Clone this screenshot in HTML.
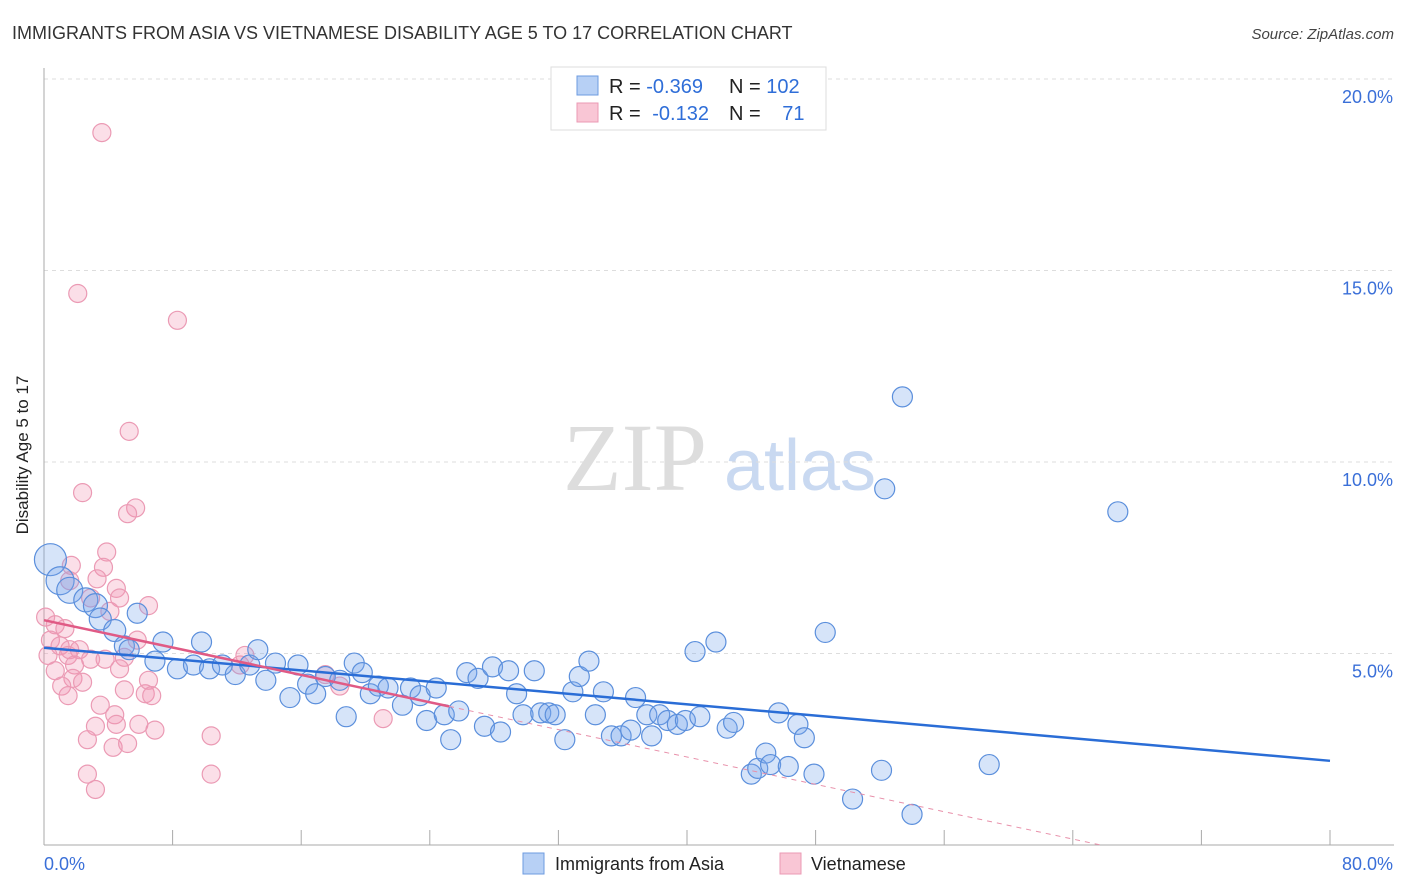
<!DOCTYPE html>
<html><head><meta charset="utf-8"><style>
body{margin:0;background:#fff;font-family:"Liberation Sans",sans-serif}
svg{display:block}
</style></head><body>
<svg width="1406" height="892" viewBox="0 0 1406 892">
<text x="12" y="39" font-size="18" fill="#333">IMMIGRANTS FROM ASIA VS VIETNAMESE DISABILITY AGE 5 TO 17 CORRELATION CHART</text>
<text x="1394" y="39" font-size="15" fill="#444" font-style="italic" text-anchor="end">Source: ZipAtlas.com</text>
<g>
<text x="635" y="490" font-size="96" fill="#ddd" font-family="Liberation Serif,serif" text-anchor="middle">ZIP</text>
<text x="800" y="490" font-size="72" fill="#c9d9f1" text-anchor="middle">atlas</text>
</g>
<g id="grid"></g>
<g id="axes"></g>
<g id="pts"></g>
<g id="trend"></g>
<text x="28" y="455" font-size="17" fill="#222" transform="rotate(-90 28 455)" text-anchor="middle">Disability Age 5 to 17</text>
<g>
<rect x="551" y="67" width="275" height="63" fill="#fff" stroke="#ddd"/>
<rect x="577" y="76" width="21" height="19" fill="#b7d0f5" stroke="#6d9be0"/>
<rect x="577" y="103" width="21" height="19" fill="#f9c6d5" stroke="#eb9ab4"/>
<text x="609" y="93" font-size="20" fill="#222">R = <tspan fill="#2f6ed8">-0.369</tspan></text>
<text x="729" y="93" font-size="20" fill="#222">N = <tspan fill="#2f6ed8">102</tspan></text>
<text x="609" y="120" font-size="20" fill="#222">R = <tspan fill="#2f6ed8" dx="6">-0.132</tspan></text>
<text x="729" y="120" font-size="20" fill="#222">N = <tspan fill="#2f6ed8" dx="16">71</tspan></text>
</g>
<g>
<rect x="523" y="853" width="21" height="21" fill="#b7d0f5" stroke="#6d9be0"/>
<text x="555" y="870" font-size="18" fill="#222">Immigrants from Asia</text>
<rect x="780" y="853" width="21" height="21" fill="#f9c6d5" stroke="#eb9ab4"/>
<text x="811" y="870" font-size="18" fill="#222">Vietnamese</text>
</g>
</svg>
<script>
const xTicks=[0,8,16,24,32,40,48,56,64,72,80];
const yTicks=[5,10,15,20];
const blueData=[[0.4,7.45],[1.0,6.9],[1.6,6.65],[2.6,6.4],[3.2,6.25],[3.5,5.9],[4.4,5.6],[5.8,6.05],[5.0,5.2],[5.3,5.1],[6.9,4.8],[7.4,5.3],[8.3,4.6],[9.3,4.7],[9.8,5.3],[10.3,4.6],[11.1,4.7],[11.9,4.45],[12.8,4.7],[13.3,5.1],[13.8,4.3],[14.4,4.75],[15.3,3.85],[15.8,4.7],[16.4,4.2],[16.9,3.95],[17.5,4.4],[18.4,4.3],[18.8,3.35],[19.3,4.75],[19.8,4.5],[20.3,3.95],[20.8,4.15],[21.4,4.1],[22.3,3.65],[22.8,4.1],[23.4,3.9],[23.8,3.25],[24.4,4.1],[24.9,3.4],[25.3,2.75],[25.8,3.5],[26.3,4.5],[27.0,4.35],[27.4,3.1],[27.9,4.65],[28.4,2.95],[28.9,4.55],[29.4,3.95],[29.8,3.4],[30.5,4.55],[30.9,3.45],[31.4,3.45],[31.8,3.4],[32.4,2.75],[32.9,4.0],[33.3,4.4],[33.9,4.8],[34.3,3.4],[34.8,4.0],[35.3,2.85],[35.9,2.85],[36.5,3.0],[36.8,3.85],[37.5,3.4],[37.8,2.85],[38.3,3.4],[38.8,3.25],[39.4,3.15],[39.9,3.25],[40.5,5.05],[40.8,3.35],[41.8,5.3],[42.5,3.05],[42.9,3.2],[44.0,1.85],[44.4,2.0],[44.9,2.4],[45.2,2.1],[45.7,3.45],[46.3,2.05],[46.9,3.15],[47.3,2.8],[47.9,1.85],[48.6,5.55],[50.3,1.2],[52.1,1.95],[52.3,9.3],[53.4,11.7],[54.0,0.8],[58.8,2.1],[66.8,8.7]];
const blueSize=[16,14,13,12,12,11,11];
const pinkData=[[3.6,18.6],[2.1,14.4],[8.3,13.7],[5.3,10.8],[2.4,9.2],[5.7,8.8],[5.2,8.65],[3.9,7.65],[1.7,7.3],[3.7,7.25],[3.3,6.95],[4.5,6.7],[1.6,6.9],[2.9,6.45],[4.7,6.45],[6.5,6.25],[4.1,6.1],[0.1,5.95],[0.7,5.75],[1.3,5.65],[0.4,5.35],[1.0,5.2],[0.25,4.95],[1.6,5.1],[2.2,5.1],[1.5,4.95],[5.8,5.35],[5.0,4.9],[4.7,4.6],[3.8,4.85],[2.9,4.85],[1.9,4.7],[0.7,4.55],[12.5,4.95],[12.2,4.7],[17.5,4.45],[18.4,4.15],[1.8,4.35],[2.4,4.25],[1.1,4.15],[1.5,3.9],[5.0,4.05],[6.3,3.95],[6.5,4.3],[6.7,3.9],[3.5,3.65],[4.4,3.4],[4.5,3.15],[3.2,3.1],[5.9,3.15],[6.9,3.0],[2.7,2.75],[4.3,2.55],[5.2,2.65],[10.4,2.85],[21.1,3.3],[2.7,1.85],[3.2,1.45],[10.4,1.85]];
const blueTrend=[5.15,-0.0369];
const pinkTrend=[5.87,-0.0893];
const pinkSolidEnd=25.2;
const NS="http://www.w3.org/2000/svg";
const X=v=>44+v*(1330-44)/80;
const Y=v=>845-v*(845-79)/20;
function mk(tag,attrs,parent){const e=document.createElementNS(NS,tag);for(const k in attrs)e.setAttribute(k,attrs[k]);parent.appendChild(e);return e;}
const grid=document.getElementById('grid'),axes=document.getElementById('axes'),pts=document.getElementById('pts'),trend=document.getElementById('trend');
yTicks.forEach(t=>{
 const l=mk('line',{x1:44,x2:1394,y1:Y(t),y2:Y(t),stroke:'#ddd','stroke-dasharray':'4,4'},grid);
 
 
 const tx=mk('text',{x:1393,y:Y(t)+24,'font-size':18,fill:'#3a6fd8','text-anchor':'end'},axes);
 tx.textContent=t.toFixed(1)+'%';
 
 
});
let a=mk('line',{x1:44,x2:44,y1:68,y2:845,stroke:'#aaa'},axes);


a=mk('line',{x1:44,x2:1394,y1:845,y2:845,stroke:'#aaa'},axes);


xTicks.forEach(t=>{
 const l=mk('line',{x1:X(t),x2:X(t),y1:830,y2:845,stroke:'#aaa'},axes);
 
 
});
[[0,'start'],[80,'end']].forEach(([t,anc])=>{
 const tx=mk('text',{x:t==0?44:1393,y:870,'font-size':18,fill:'#3a6fd8','text-anchor':anc},axes);
 tx.textContent=t.toFixed(1)+'%';
 
 
});
pinkData.forEach(d=>{
 const c=mk('circle',{cx:X(d[0]),cy:Y(d[1]),r:9,fill:'rgba(242,150,178,0.3)',stroke:'#eb9ab4','stroke-width':1.2},pts);
 
 
});
blueData.forEach((d,i)=>{
 const c=mk('circle',{cx:X(d[0]),cy:Y(d[1]),r:blueSize[i]||10,fill:'rgba(120,165,235,0.3)',stroke:'#5b8fdc','stroke-width':1.2},pts);
 
 
});
let t=mk('line',{x1:X(0),y1:Y(blueTrend[0]),x2:X(80),y2:Y(blueTrend[0]+blueTrend[1]*80),stroke:'#2a6dd6','stroke-width':2.5},trend);


t=mk('line',{x1:X(0),y1:Y(pinkTrend[0]),x2:X(pinkSolidEnd),y2:Y(pinkTrend[0]+pinkTrend[1]*pinkSolidEnd),stroke:'#e05a85','stroke-width':2.5},trend);


const xEnd=-pinkTrend[0]/pinkTrend[1];
t=mk('line',{x1:X(pinkSolidEnd),y1:Y(pinkTrend[0]+pinkTrend[1]*pinkSolidEnd),x2:X(xEnd),y2:Y(0),stroke:'#e890aa','stroke-width':1,'stroke-dasharray':'5,5'},trend);


</script>
</body></html>
